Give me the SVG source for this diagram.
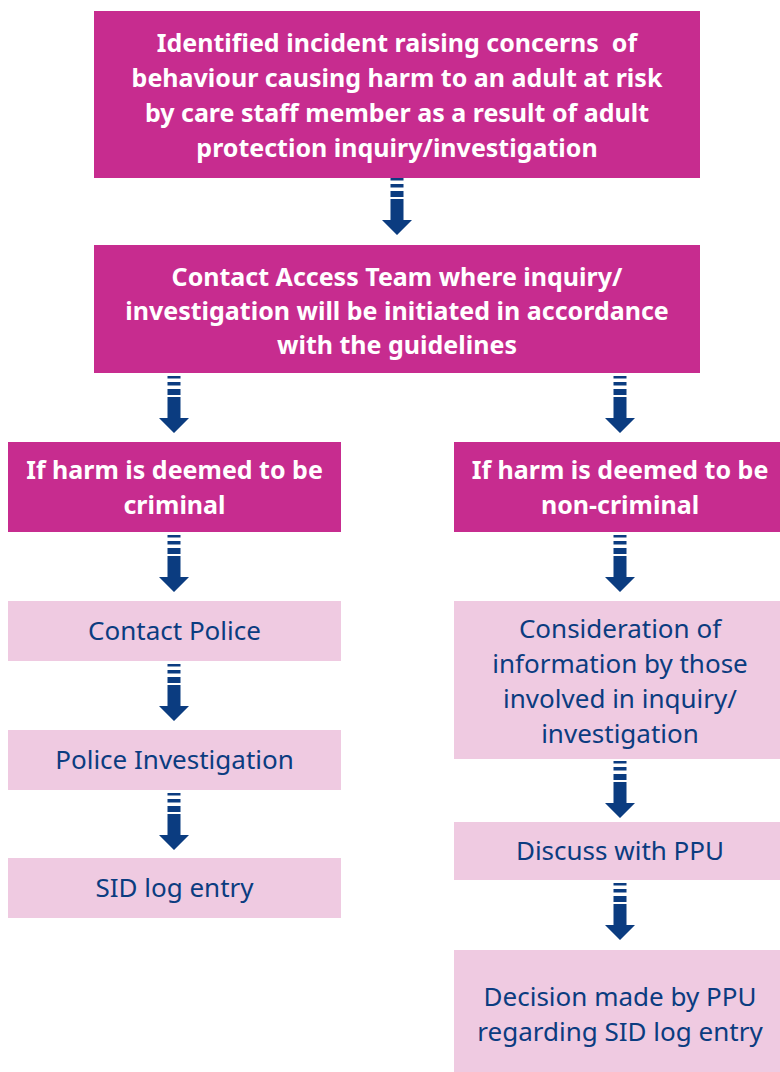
<svg xmlns="http://www.w3.org/2000/svg" xmlns:xlink="http://www.w3.org/1999/xlink" width="780" height="1072" viewBox="0 0 780 1072">
<style>
.dark{fill:#C72C8F}
.light{fill:#EFCAE1}
.tw{font-family:"Noto Sans","Open Sans",sans-serif;font-weight:bold;font-size:25px;fill:#FFFFFF;text-anchor:middle}
.tb{font-family:"Noto Sans","Open Sans",sans-serif;font-size:26px;fill:#0B3C80;text-anchor:middle}
.arr{fill:#0B3C80}
</style>
<defs>
<g id="arrow">
<rect class="arr" x="-6.5" y="0" width="13" height="2.5"/>
<rect class="arr" x="-6.5" y="6" width="13" height="3.5"/>
<rect class="arr" x="-6.5" y="13" width="13" height="6"/>
<path class="arr" d="M-6.5,21 H6.5 V42 H15 L0,57 L-15,42 H-6.5 Z"/>
</g>
</defs>
<g id="n1"><rect class="dark" x="94" y="11" width="606" height="167"/>
<text class="tw"><tspan x="397" y="52">Identified incident raising concerns&#160; of</tspan><tspan x="397" y="87">behaviour causing harm to an adult at risk</tspan><tspan x="397" y="122">by care staff member as a result of adult</tspan><tspan x="397" y="157">protection inquiry/investigation</tspan></text></g>
<g id="n2"><rect class="dark" x="94" y="245" width="606" height="128"/>
<text class="tw"><tspan x="397" y="286">Contact Access Team where inquiry/</tspan><tspan x="397" y="320">investigation will be initiated in accordance</tspan><tspan x="397" y="354">with the guidelines</tspan></text></g>
<g id="n3"><rect class="dark" x="8" y="442" width="333" height="90"/>
<text class="tw"><tspan x="174.5" y="479">If harm is deemed to be</tspan><tspan x="174.5" y="514">criminal</tspan></text></g>
<g id="n4"><rect class="dark" x="454" y="442" width="326" height="90"/>
<text class="tw"><tspan x="620" y="479">If harm is deemed to be</tspan><tspan x="620" y="514">non-criminal</tspan></text></g>
<g id="n5"><rect class="light" x="8" y="601" width="333" height="60"/>
<text class="tb" x="174.5" y="640">Contact Police</text></g>
<g id="n6"><rect class="light" x="8" y="730" width="333" height="60"/>
<text class="tb" x="174.5" y="769">Police Investigation</text></g>
<g id="n7"><rect class="light" x="8" y="858" width="333" height="60"/>
<text class="tb" x="174.5" y="897">SID log entry</text></g>
<g id="n8"><rect class="light" x="454" y="601" width="326" height="158"/>
<text class="tb"><tspan x="620" y="638">Consideration of</tspan><tspan x="620" y="673">information by those</tspan><tspan x="620" y="708">involved in inquiry/</tspan><tspan x="620" y="743">investigation</tspan></text></g>
<g id="n9"><rect class="light" x="454" y="822" width="326" height="58"/>
<text class="tb" x="620" y="860">Discuss with PPU</text></g>
<g id="n10"><rect class="light" x="454" y="950" width="326" height="122"/>
<text class="tb"><tspan x="620" y="1006">Decision made by PPU</tspan><tspan x="620" y="1041">regarding SID log entry</tspan></text></g>
<g id="connectors">
<use xlink:href="#arrow" x="397" y="178"/>
<use xlink:href="#arrow" x="174" y="376"/>
<use xlink:href="#arrow" x="620" y="376"/>
<use xlink:href="#arrow" x="174" y="535"/>
<use xlink:href="#arrow" x="620" y="535"/>
<use xlink:href="#arrow" x="174" y="664"/>
<use xlink:href="#arrow" x="174" y="793"/>
<use xlink:href="#arrow" x="620" y="761"/>
<use xlink:href="#arrow" x="620" y="883"/>
</g>
</svg>
